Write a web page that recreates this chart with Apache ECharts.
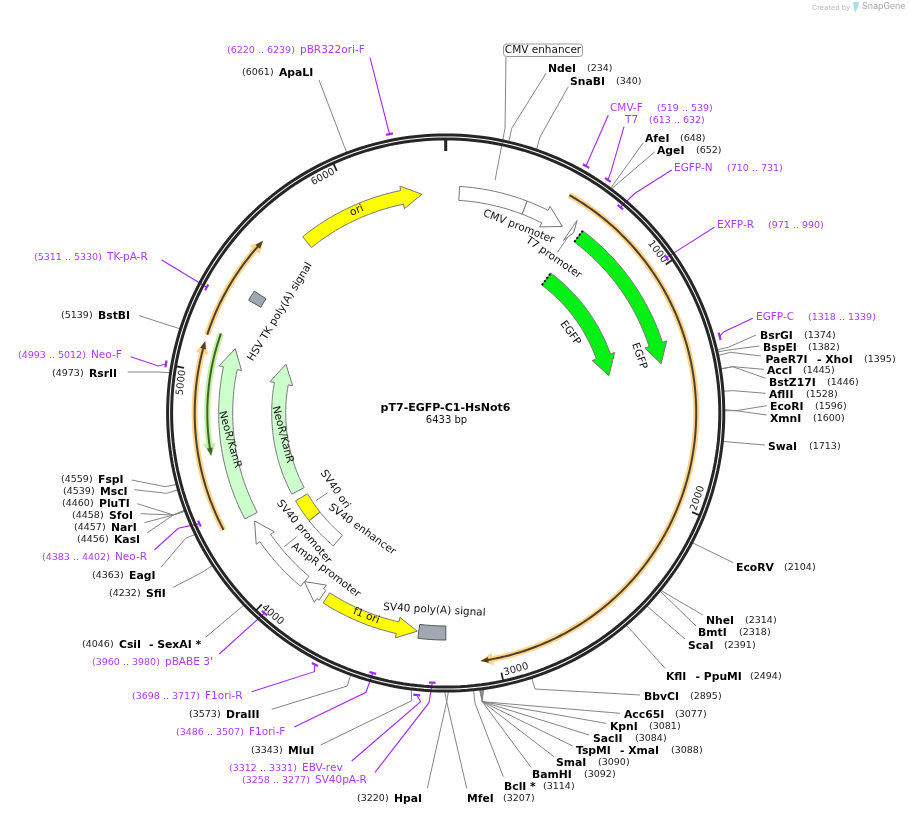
<!DOCTYPE html>
<html><head><meta charset="utf-8">
<style>html,body{margin:0;padding:0;background:#fff}#c{width:910px;height:815px}</style>
<script src="https://cdn.jsdelivr.net/npm/echarts@6/dist/echarts.min.js"></script>
</head><body><div id="c"></div>
<script>
// ---------- values ----------
const plasmidName = 'pT7-EGFP-C1-HsNot6';
const plasmidLength = 6433;
const tickValues = [1000, 2000, 3000, 4000, 5000, 6000];

const siteNames = ['NdeI','SnaBI','AfeI','AgeI','BsrGI','BspEI','PaeR7I','AccI','BstZ17I','AflII','EcoRI','XmnI','SwaI','EcoRV','NheI','BmtI','ScaI','KflI','BbvCI','Acc65I','KpnI','SacII','TspMI','SmaI','BamHI','BclI *','MfeI','HpaI','MluI','DraIII','CsiI','SfiI','EagI','KasI','NarI','SfoI','PluTI','MscI','FspI','RsrII','BstBI','ApaLI'];
const sitePositions = [234,340,648,652,1374,1382,1395,1445,1446,1528,1596,1600,1713,2104,2314,2318,2391,2494,2895,3077,3081,3084,3088,3090,3092,3114,3207,3220,3343,3573,4046,4232,4363,4456,4457,4458,4460,4539,4559,4973,5139,6061];
const siteCompanions = {PaeR7I:'- XhoI', KflI:'- PpuMI', TspMI:'- XmaI', CsiI:'- SexAI *'};

const primerNames = ['CMV-F','T7','EGFP-N','EXFP-R','EGFP-C','F1ori-R','F1ori-F','EBV-rev','SV40pA-R','pBABE 3\'','Neo-R','Neo-F','TK-pA-R','pBR322ori-F'];
const primerStarts = [519,613,710,971,1318,3698,3486,3312,3258,3960,4383,4993,5311,6220];
const primerEnds = [539,632,731,990,1339,3717,3507,3331,3277,3980,4402,5012,5330,6239];

const featureNames = ['CMV enhancer','CMV promoter','T7 promoter','EGFP','EGFP','ori','HSV TK poly(A) signal','NeoR/KanR','NeoR/KanR','SV40 ori','SV40 enhancer','SV40 promoter','AmpR promoter','f1 ori','SV40 poly(A) signal'];
const featureStarts = [63,376,613,660,660,5735,5357,4328,4328,4142,3935,3930,3825,3349,3216];
const featureEnds = [376,572,632,1378,1378,6322,5405,5128,5128,4283,4140,4298,3931,3803,3342];
const featureDirections = [0,1,1,1,1,1,0,1,1,0,0,1,1,-1,0];

const traceStarts = [529,4329,5150,5173];
const traceEnds = [3068,5116,5593,4646];
const traceDirections = [1,1,1,-1];

// ---------- layout and styles ----------
const CX = 445.7, CY = 413, POLAR_R = 320;
const featureStyle = [
  {track:[213,227],fill:'#fff'},{track:[213,227],fill:'#fff'},{track:[215,227],fill:'#fff',head:7,flare:6},
  {track:[214,228],fill:'#05f014',dash:1},{track:[160,175],fill:'#05f014',dash:1},
  {track:[213,227],fill:'#ffff00'},{track:[213,227],fill:'#a2a8b2',stroke:'#555'},
  {track:[213,227],fill:'#ccffcc'},{track:[160,174],fill:'#ccffcc'},
  {track:[160,174],fill:'#ffff00'},{track:[160,174],fill:'#fff'},
  {track:[213,226],fill:'#fff'},{track:[214,226],fill:'#fff'},{track:[214,226],fill:'#ffff00'},{track:[213,227],fill:'#a2a8b2',stroke:'#555'}
];
// label anchor along the map: [bp, radius, rotation adjustment in degrees]
const featureLabelAnchor = [null,[382,200,0],[622,189,0],[1315,201.7,-3],[1024,148,-3],[6009,221,0],[5386,194,0],[4700,217.6,-9],[4690,164.5,-7],[4205,134.4,0],[3854,143.5,0],[4110,185,0],[3883,197.7,0],[3599,218,0],[3275,197.5,0]];
const traceStyle = [
  {r:250.5,halo:'#fdd48a',core:'#50402a'},{r:251,halo:'#fdd48a',core:'#50402a'},
  {r:251,halo:'#fdd48a',core:'#50402a'},{r:238.4,halo:'#c3f0a0',core:'#3c6628'}
];
// site label layout: nameX, numberX, y, leader path after the ring, companionX
const siteLayout = {
 NdeI:[548,587,68,[[511.7,128.3],[546,73.3]]],
 SnaBI:[570,616,81,[[540,137],[568.3,86.7]]],
 AfeI:[645,680,138,[[643.3,142.7]]],
 AgeI:[657,696,150,[[655,151.7]]],
 BsrGI:[760,804,335,[[728.3,347.3],[756,335]]],
 BspEI:[763,808,347,[[728.3,350],[759.3,346]]],
 PaeR7I:[765.5,864,359,[[730.7,352.3],[761,356]],817],
 AccI:[767,803,370,[[732.7,366.7],[764,369.3]]],
 BstZ17I:[769,827,382,[[732.7,366.7],[765.7,378.3]]],
 AflII:[769,806,394,[[733.3,390.7],[765.7,393.3]]],
 EcoRI:[770,815,406,[[736,410.7],[766.7,405.7]]],
 XmnI:[770,813,418,[[736,410.7],[766.7,415]]],
 SwaI:[768,809,446,[[765,445]]],
 EcoRV:[736,784,567,[[733.3,562.7]]],
 NheI:[706,745,620,[[702.7,615]]],
 BmtI:[698,739,632,[[696,626]]],
 ScaI:[688,724,645,[[685,639]]],
 KflI:[666,750,676,[[665,668.3]],695.5],
 BbvCI:[644,690,696,[[535,689],[640,695]]],
 Acc65I:[624,675,714,[[482.3,701.7],[620,713.3]]],
 KpnI:[610,649,726,[[482.3,701.7],[606,723.3]]],
 SacII:[593,635,738,[[482.3,701.7],[589.3,735]]],
 TspMI:[576,671,750,[[482.3,701.7],[572.7,746]],620],
 SmaI:[556,598,762,[[482.3,701.7],[554,756.7]]],
 BamHI:[532,584,774,[[482.3,701.7],[531,767.3]]],
 'BclI *':[504,543,786,[[475,703.3],[503.3,776.7]]],
 MfeI:[467,503,798,[[446.7,701.7],[466.7,788.3]]],
 HpaI:[394,357,798,[[446.7,701.7],[427.3,788.3]]],
 MluI:[288,251,750,[[411.7,700.7],[320.7,745]]],
 DraIII:[226,189,714,[[347.3,686],[271.7,709.3]]],
 CsiI:[119,82,644,[[205.7,637.3]],149],
 SfiI:[146,109,593,[[203.3,571.7],[173.3,587.3]]],
 EagI:[129,92,575,[[185.7,538.3],[161,567.3]]],
 KasI:[114,77,539,[[173.3,515],[147.3,532.7]]],
 NarI:[111,74,527,[[173.3,515],[144.3,522.7]]],
 SfoI:[109,72,515,[[173.3,515],[140.7,513.7]]],
 PluTI:[99,62,503,[[173.3,515],[137.3,503.7]]],
 MscI:[100,63,491,[[166.7,493.3],[134.3,489.7]]],
 FspI:[98,61,479,[[165,486.7],[131.7,480]]],
 RsrII:[89,52,373,[[158.3,372],[127.7,372]]],
 BstBI:[98,61,315,[[139.3,315.7]]],
 ApaLI:[279,242,72,[[319,80]]]
};
// primer label layout: nameX, rangeX, y, mark radius, leader path
const primerLayout = {
 'CMV-F':[610,657,108,284,[[608.3,115]]],
 'T7':[625,649,120,284,[[611,171.7],[624,126.7]]],
 'EGFP-N':[674,727,168,270,[[635,193.3],[671.7,170]]],
 'EXFP-R':[717,768,225,270,[[714.3,227.3]]],
 'EGFP-C':[756,808,317,284.5,[[724,331.7],[752.7,318.3]]],
 'F1ori-R':[205,132,696,283.5,[[314.3,671.7],[251.7,691.7]]],
 'F1ori-F':[249,176,732,270,[[366,692.3],[294.3,727]]],
 'EBV-rev':[302,229,768,283.5,[[420.7,701.7],[351.7,761]]],
 'SV40pA-R':[315,242,780,270,[[429,702.7],[375,772.3]]],
 "pBABE 3'":[165,92,662,270,[[219.3,654]]],
 'Neo-R':[115,42,557,270,[[178.3,528.3],[154.3,550]]],
 'Neo-F':[91,18,355,284,[[158.3,366],[130.7,356.7]]],
 'TK-pA-R':[107,34,257,270,[[161.7,260]]],
 'pBR322ori-F':[300,227,50,284.5,[[370,57.7]]]
};
// leader lines of feature labels: [bp, radius, endX, endY, ...]
const featureLeaders = [[214,238,505,128.3,506,57],[622,213,557.3,252.3],[4217,156.4,327.7,492.7],[4117,209.7,296.7,536.7]];

const FONT = '"DejaVu Sans"';
const LINE = '#858585', PURPLE_LINE = '#a428f5', PURPLE_TEXT = '#ad3bff';
const TEXT_DY = 0.7;
const bpPerPx = r => plasmidLength / (2 * Math.PI * r);
const deg = bp => bp / plasmidLength * 360;
function upright(bp, adj){ let a = deg(bp); if (a > 90 && a < 270) a -= 180; else if (a >= 270) a -= 360; return -(a + (adj || 0)) * Math.PI / 180; }
function arc(api, r, a, b){
  const n = Math.max(2, Math.ceil(Math.abs(b - a) / 12)), p = [];
  for (let i = 0; i <= n; i++) p.push(api.coord([r, a + (b - a) * i / n]));
  return p;
}
const poly = (points, stroke, w, extra) => ({type:'polyline', silent:true, shape:{points}, style:Object.assign({stroke, lineWidth:w, fill:null}, extra || {})});
const polygon = (points, fill, stroke, w) => ({type:'polygon', silent:true, shape:{points}, style:{fill, stroke, lineWidth:w, lineJoin:'miter'}});
const label = (x, y, text, font, fill, rotation, align) => ({type:'text', silent:true, x, y, rotation:rotation || 0, style:{text, font, fill, align:align || 'left', verticalAlign:'middle'}});

// ---------- renderers ----------
function renderLeaders(p, api){
  const i = api.value(2), kind = api.value(3), out = [];
  if (kind === 0) {
    const pos = sitePositions[i], L = siteLayout[siteNames[i]];
    out.push(poly([api.coord([279, pos])].concat(L[3]), LINE, 1));
  } else if (kind === 1) {
    const a = primerStarts[i], b = primerEnds[i], L = primerLayout[primerNames[i]];
    out.push(poly([api.coord([L[3], (a + b) / 2])].concat(L[4]), PURPLE_LINE, 1.1));
  } else {
    const F = featureLeaders[i], pts = [api.coord([F[1], F[0]])];
    for (let k = 2; k < F.length; k += 2) pts.push([F[k], F[k + 1]]);
    out.push(poly(pts, LINE, 1));
  }
  return {type:'group', children:out};
}
function renderRing(p, api){
  const full = r => { const pts = []; for (let i = 0; i <= 240; i++) pts.push(api.coord([r, plasmidLength * i / 240])); return pts; };
  const kids = [poly(full(278.1), '#262626', 3), poly(full(274.1), '#262626', 3)];
  kids.push(poly([api.coord([273.5, 0]), api.coord([262, 0])], '#222', 3));
  tickValues.forEach(t => {
    kids.push(poly([api.coord([273.5, t]), api.coord([265.5, t])], '#222', 1.8));
    const tb = t - 15 * bpPerPx(266), c = api.coord([266, tb]);
    kids.push(label(c[0], c[1], String(t), '10px ' + FONT, '#222', upright(tb), 'center'));
  });
  return {type:'group', children:kids};
}
function renderPrimerMark(p, api){
  const i = api.value(2), L = primerLayout[primerNames[i]];
  return poly(arc(api, L[3], primerStarts[i] - 3, primerEnds[i] + 3), PURPLE_LINE, 2.2);
}
function renderTrace(p, api){
  const i = api.value(2), S = traceStyle[i], a = traceStarts[i], b = traceEnds[i], d = traceDirections[i], r = S.r;
  const bp1 = b - d * 6 * bpPerPx(r), hb = b - d * 9 * bpPerPx(r);
  const head = (w, back) => [api.coord([r + w, b - d * back * bpPerPx(r)]), api.coord([r, b + d * 1.5 * bpPerPx(r)]), api.coord([r - w, b - d * back * bpPerPx(r)])];
  return {type:'group', children:[
    poly(arc(api, r, a, hb), S.halo, 6),
    polygon(head(6.5, 11), S.halo, S.halo, 0),
    poly(arc(api, r, a, bp1), S.core, 2),
    polygon(head(3, 6.5), S.core, S.core, 0)
  ]};
}
function renderFeature(p, api){
  const i = api.value(2), S = featureStyle[i], a = featureStarts[i], b = featureEnds[i], d = featureDirections[i];
  const rIn = S.track[0], rOut = S.track[1], mid = (rIn + rOut) / 2, flare = S.flare === undefined ? 4.5 : S.flare, hpx = S.head || 20;
  const stroke = S.stroke || '#777', kids = [];
  let pts;
  if (d === 0) {
    pts = arc(api, rOut, a, b).concat(arc(api, rIn, b, a));
  } else {
    const tail = d > 0 ? a : b, tip = d > 0 ? b : a;
    let back = tip - d * hpx * bpPerPx(mid);
    if ((back - tail) * d < 0) back = tail;
    pts = arc(api, rOut, tail, back).concat([api.coord([rOut + flare, back]), api.coord([mid, tip]), api.coord([rIn - flare, back])], arc(api, rIn, back, tail));
  }
  kids.push(polygon(pts, S.fill, stroke, 1));
  if (S.dash) kids.push(poly([api.coord([rIn, a]), api.coord([rOut, a])], '#111', 2, {lineDash:[2, 2]}));
  const A = featureLabelAnchor[i];
  if (A) { const c = api.coord([A[1], A[0]]); kids.push(label(c[0], c[1], featureNames[i], '10.5px ' + FONT, '#111', upright(A[0], A[2]), 'center')); }
  return {type:'group', children:kids};
}
function renderSiteLabel(p, api){
  const i = api.value(2), name = siteNames[i], L = siteLayout[name], y = L[2] + TEXT_DY, kids = [];
  const c = api.coord([L[0], y]), n = api.coord([L[1], y]);
  kids.push(label(c[0], c[1], name, 'bold 10.8px ' + FONT, '#000'));
  kids.push(label(n[0], n[1], '(' + sitePositions[i] + ')', '9.5px ' + FONT, '#222'));
  if (siteCompanions[name]) { const e = api.coord([L[4], y]); kids.push(label(e[0], e[1], siteCompanions[name], 'bold 10.8px ' + FONT, '#000')); }
  return {type:'group', children:kids};
}
function renderPrimerLabel(p, api){
  const i = api.value(2), name = primerNames[i], L = primerLayout[name], y = L[2] + TEXT_DY, c = api.coord([L[0], y]), n = api.coord([L[1], y]);
  return {type:'group', children:[
    label(c[0], c[1], name, '10.5px ' + FONT, PURPLE_TEXT),
    label(n[0], n[1], '(' + primerStarts[i] + ' .. ' + primerEnds[i] + ')', '9.5px ' + FONT, PURPLE_TEXT)
  ]};
}
function renderCentre(p, api){
  const a = api.coord([445.5, 408.5]), b = api.coord([446.5, 420.5]), t = api.coord([543, 50]);
  return {type:'group', children:[
    label(a[0], a[1], plasmidName, 'bold 11px ' + FONT, '#000', 0, 'center'),
    label(b[0], b[1], plasmidLength + ' bp', '10px ' + FONT, '#111', 0, 'center'),
    {type:'rect', silent:true, shape:{x:t[0] - 39.5, y:t[1] - 6, width:79, height:12.5, r:3}, style:{fill:'#fff', stroke:'#999', lineWidth:1}},
    label(t[0], t[1] + TEXT_DY, featureNames[0], '10.5px ' + FONT, '#111', 0, 'center')
  ]};
}
const idx = arr => arr.map((_, i) => [0, 0, i, 0]);
const polarSeries = (data, renderItem, z) => ({type:'custom', coordinateSystem:'polar', polarIndex:0, data, renderItem, z, silent:true, animation:false, clip:false, encode:{radius:0, angle:1}});
const cartSeries = (data, renderItem, z) => ({type:'custom', coordinateSystem:'cartesian2d', data, renderItem, z, silent:true, animation:false, clip:false, encode:{x:0, y:1}});

const leaderData = idx(siteNames).concat(primerNames.map((_, i) => [0, 0, i, 1]), featureLeaders.map((_, i) => [0, 0, i, 2]));
const chart = echarts.init(document.getElementById('c'), null, {renderer:'canvas'});
chart.setOption({
  backgroundColor:'#fff', animation:false, tooltip:{show:false},
  polar:{center:[CX, CY], radius:POLAR_R},
  angleAxis:{type:'value', min:0, max:plasmidLength, startAngle:90, clockwise:true, show:false},
  radiusAxis:{type:'value', min:0, max:POLAR_R, show:false},
  grid:{left:0, right:0, top:0, bottom:0, containLabel:false},
  xAxis:{type:'value', min:0, max:910, show:false},
  yAxis:{type:'value', min:0, max:815, inverse:true, show:false},
  series:[
    polarSeries(leaderData, renderLeaders, 1),
    polarSeries([[0, 0, 0, 0]], renderRing, 2),
    polarSeries(idx(traceStarts), renderTrace, 3),
    polarSeries(idx(featureNames), renderFeature, 4),
    polarSeries(idx(primerNames), renderPrimerMark, 5),
    cartSeries(idx(siteNames), renderSiteLabel, 6),
    cartSeries(idx(primerNames), renderPrimerLabel, 6),
    cartSeries([[0, 0, 0, 0]], renderCentre, 6)
  ],
  graphic:[
    {type:'text', silent:true, x:812, y:3.5, style:{text:'Created by', font:'8px Roboto', fill:'#bcc0c4'}},
    {type:'polygon', silent:true, shape:{points:[[853,2],[859,2],[858,7],[855,13],[854,8]]}, style:{fill:'#a9daf2'}},
    {type:'text', silent:true, x:862, y:2, style:{text:'SnapGene', font:'9.5px Roboto', fill:'#a8adb2'}}
  ]
});
</script></body></html>
